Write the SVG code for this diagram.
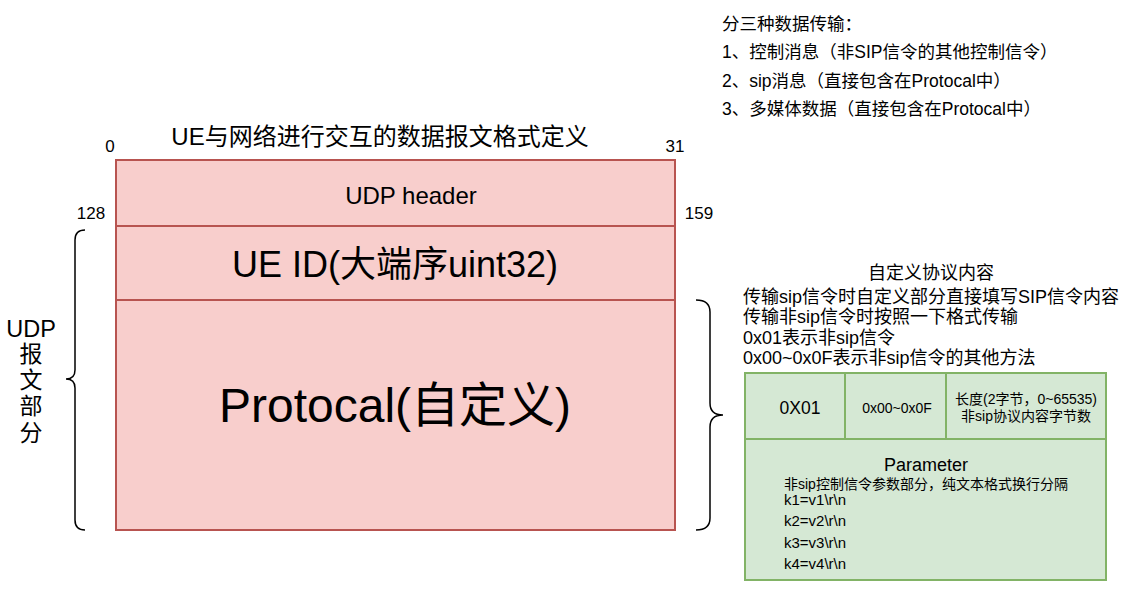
<svg xmlns="http://www.w3.org/2000/svg" width="1146" height="616" viewBox="0 0 1146 616">
<style>
text{font-family:"Liberation Sans","Noto Sans CJK SC",sans-serif;fill:#000}
.r{fill:#f8cecc;stroke:#b85450;stroke-width:2}
.g{fill:#d5e8d4;stroke:#82b366;stroke-width:2}
.br{fill:none;stroke:#000;stroke-width:1.5}
.c{text-anchor:middle}
</style>
<rect width="1146" height="616" fill="#fff"/>
<g id="notes">
<text x="722" y="30" font-size="17.5">分三种数据传输：</text>
<text x="722" y="58" font-size="17.5">1、控制消息（非SIP信令的其他控制信令）</text>
<text x="722" y="87" font-size="17.5">2、sip消息（直接包含在Protocal中）</text>
<text x="722" y="115" font-size="17.5">3、多媒体数据（直接包含在Protocal中）</text>
</g>
<g id="title"><text x="380" y="145" font-size="24" class="c">UE与网络进行交互的数据报文格式定义</text></g>
<g id="bits">
<text x="110" y="152" font-size="17" class="c">0</text>
<text x="675" y="152" font-size="17" class="c">31</text>
<text x="91" y="219" font-size="17" class="c">128</text>
<text x="699" y="219" font-size="17" class="c">159</text>
</g>
<g id="udp-header"><rect class="r" x="116" y="160" width="559" height="66"/><text x="411" y="204" font-size="24" class="c">UDP header</text></g>
<g id="ue-id"><rect class="r" x="116" y="226" width="559" height="74"/><text x="395" y="277" font-size="36" class="c">UE ID(大端序uint32)</text></g>
<g id="protocal"><rect class="r" x="116" y="300" width="559" height="230"/><text x="395" y="422" font-size="48" class="c">Protocal(自定义)</text></g>
<g id="udp-label">
<text x="31" y="337" font-size="23.5" class="c">UDP</text>
<text x="31" y="362" font-size="23" class="c">报</text>
<text x="31" y="388" font-size="23" class="c">文</text>
<text x="31" y="414" font-size="23" class="c">部</text>
<text x="31" y="441" font-size="23" class="c">分</text>
</g>
<g id="connectors">
<path class="br" d="M85,230 Q75,230 75,240 L75,370 Q75,379 66,379 Q75,379 75,388 L75,520 Q75,530 85,530"/>
<path class="br" d="M696,300 Q710,300 710,312 L710,403 Q710,415 723,415 Q710,415 710,427 L710,518 Q710,530 696,530"/>
</g>
<g id="protocol-desc">
<text x="931" y="279" font-size="18" class="c">自定义协议内容</text>
<text x="743" y="303" font-size="18">传输sip信令时自定义部分直接填写SIP信令内容</text>
<text x="743" y="323" font-size="18">传输非sip信令时按照一下格式传输</text>
<text x="743" y="344" font-size="18">0x01表示非sip信令</text>
<text x="743" y="364" font-size="18">0x00~0x0F表示非sip信令的其他方法</text>
</g>
<g id="cell-type"><rect class="g" x="745" y="373" width="100" height="66"/><text x="800" y="414" font-size="17.5" class="c">0X01</text></g>
<g id="cell-method"><rect class="g" x="845" y="373" width="101" height="66"/><text x="897" y="413" font-size="14" class="c">0x00~0x0F</text></g>
<g id="cell-length"><rect class="g" x="946" y="373" width="160" height="66"/><text x="1026" y="404" font-size="14" class="c">长度(2字节，0~65535)</text><text x="1026" y="421" font-size="14" class="c">非sip协议内容字节数</text></g>
<g id="parameter"><rect class="g" x="745" y="439" width="361" height="141"/>
<text x="926" y="471" font-size="18" class="c">Parameter</text>
<text x="784" y="489" font-size="14">非sip控制信令参数部分，纯文本格式换行分隔</text>
<text x="784" y="505" font-size="15">k1=v1\r\n</text>
<text x="784" y="526" font-size="15">k2=v2\r\n</text>
<text x="784" y="548" font-size="15">k3=v3\r\n</text>
<text x="784" y="569" font-size="15">k4=v4\r\n</text>
</g>
</svg>
